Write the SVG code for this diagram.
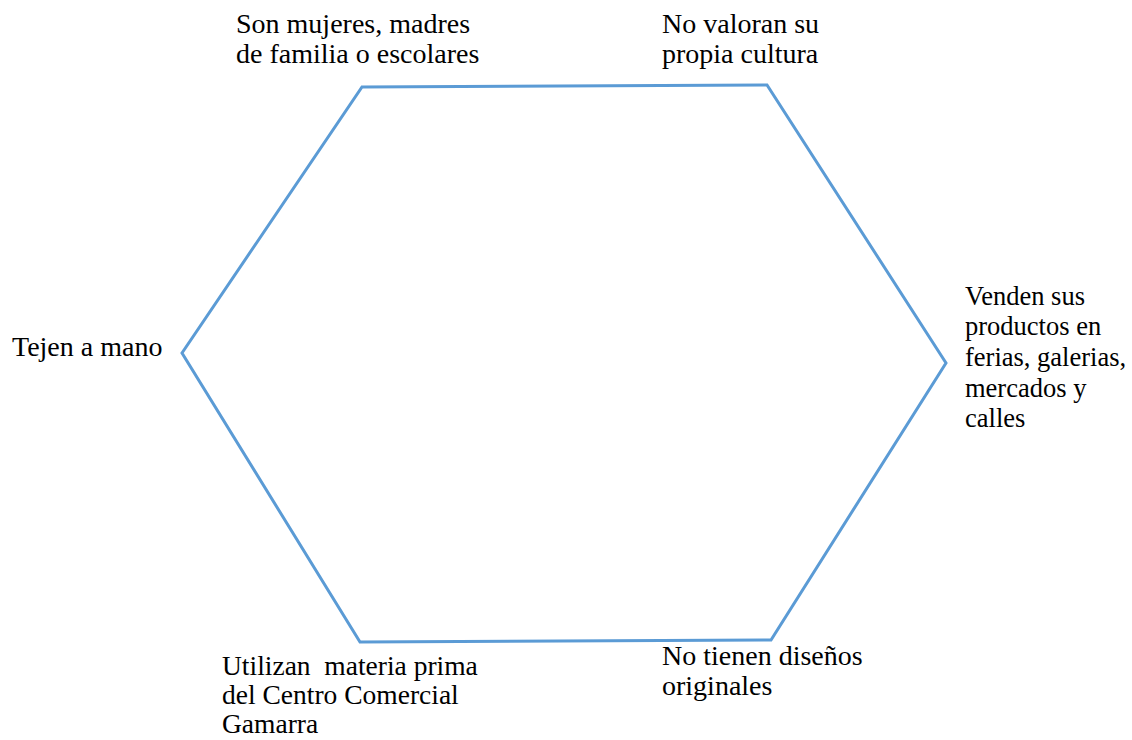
<svg xmlns="http://www.w3.org/2000/svg" width="1132" height="740" viewBox="0 0 1132 740">
<style>
text{font-family:"Liberation Serif","Times New Roman",serif;font-size:28px;fill:#000}
#n4 text{font-size:26.5px}
#n5 text{font-size:27.5px}
.hex{fill:none;stroke:#5B9BD5;stroke-width:3;stroke-linejoin:miter}
</style>
<rect width="1132" height="740" fill="#fff"/>
<g id="connectors">
<polygon class="hex" points="362,87 767,85 946,363 771,640 360,642 182,353"/>
</g>
<g id="n1"><text x="236" y="33">Son mujeres, madres</text><text x="236" y="63">de familia o escolares</text></g>
<g id="n2"><text x="662" y="33">No valoran su</text><text x="662" y="63">propia cultura</text></g>
<g id="n3"><text x="12" y="356">Tejen a mano</text></g>
<g id="n4"><text x="965" y="305">Venden sus</text><text x="965" y="335">productos en</text><text x="965" y="366">ferias, galerias,</text><text x="965" y="397">mercados y</text><text x="965" y="427">calles</text></g>
<g id="n5"><text x="222" y="675" xml:space="preserve">Utilizan  materia prima</text><text x="222" y="704">del Centro Comercial</text><text x="222" y="733">Gamarra</text></g>
<g id="n6"><text x="662" y="665">No tienen diseños</text><text x="662" y="695">originales</text></g>
</svg>
